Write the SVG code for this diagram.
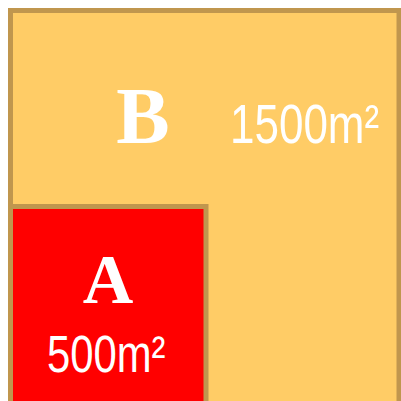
<svg xmlns="http://www.w3.org/2000/svg" width="401" height="401" viewBox="0 0 401 401">
<style>
.area{stroke:#C0964E;stroke-width:5}
.letter{font-family:"Liberation Serif",serif;font-weight:bold;fill:#fff;text-anchor:middle}
.num{font-family:"Liberation Sans",sans-serif;fill:#fff}
</style>
<rect width="401" height="401" fill="#fff"/>
<g id="B">
<rect class="area" x="10.5" y="10.5" width="388.5" height="400" fill="#FFCC66"/>
<text class="letter" x="143" y="143" font-size="80">B</text>
<text class="num" transform="translate(230 143) scale(0.8 1)" font-size="55">1500m²</text>
</g>
<g id="A">
<rect class="area" x="10.5" y="206.5" width="195.5" height="200" fill="#FF0000"/>
<text class="letter" x="108" y="303" font-size="70">A</text>
<text class="num" transform="translate(47 372) scale(0.82 1)" font-size="51">500m²</text>
</g>
</svg>
